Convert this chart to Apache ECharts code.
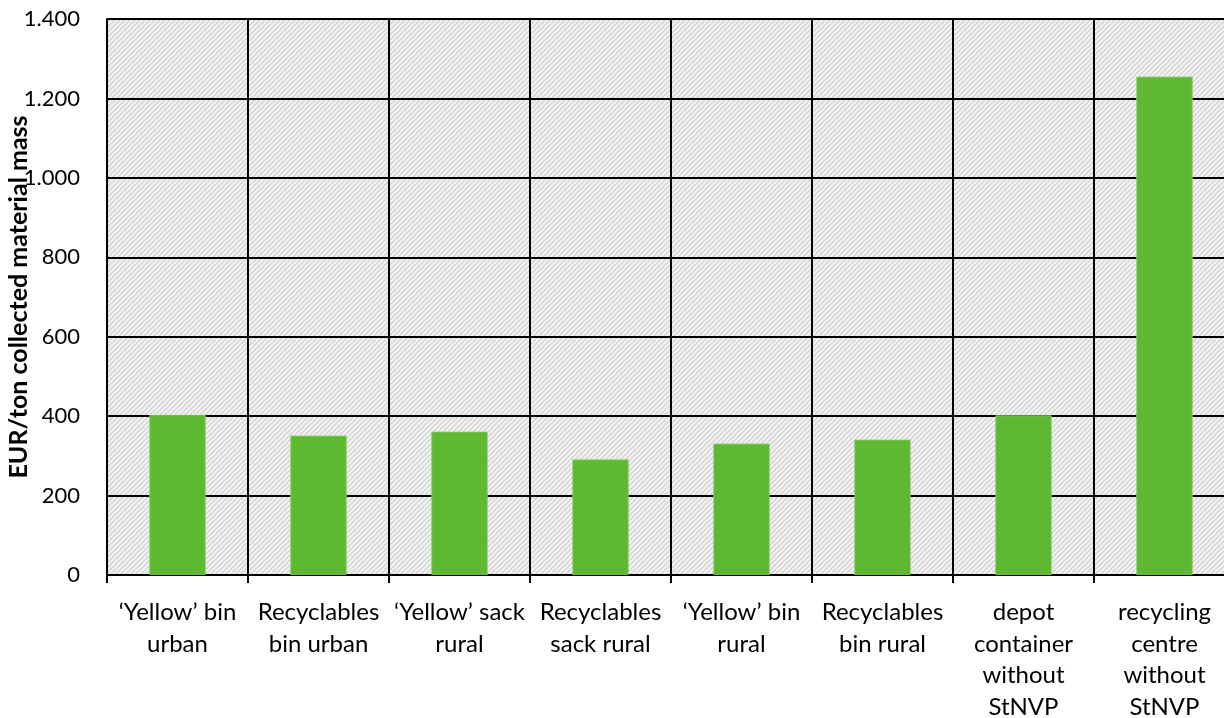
<!DOCTYPE html>
<html>
<head>
<meta charset="utf-8">
<script src="https://cdn.jsdelivr.net/npm/echarts@6/dist/echarts.min.js"></script>
<style>
  html, body { margin: 0; padding: 0; background: #ffffff; }
  #chart { width: 1224px; height: 718px; }
</style>
</head>
<body>
<div id="chart"></div>
<script>
// Collection systems (x-axis categories)
const categories = [
  '\u2018Yellow\u2019 bin\nurban',
  'Recyclables\nbin urban',
  '\u2018Yellow\u2019 sack\nrural',
  'Recyclables\nsack rural',
  '\u2018Yellow\u2019 bin\nrural',
  'Recyclables\nbin rural',
  'depot\ncontainer\nwithout\nStNVP',
  'recycling\ncentre\nwithout\nStNVP'
];

// Cost per ton of collected material (EUR/t)
const costPerTon = [403, 351, 361, 291, 331, 341, 402, 1255];

// Value axis settings
const yMin = 0;
const yMax = 1400;
const yStep = 200;
const yAxisTitle = 'EUR/ton collected material mass';

// Diagonal hatch used as the plot-area fill
function makeHatch() {
  const s = 5;
  const c = document.createElement('canvas');
  c.width = s; c.height = s;
  const g = c.getContext('2d');
  g.fillStyle = '#f5f5f5';
  g.fillRect(0, 0, s, s);
  g.strokeStyle = '#d6d6d6';
  g.lineWidth = 1.7;
  g.beginPath();
  g.moveTo(0, s); g.lineTo(s, 0);
  g.moveTo(-1, 1); g.lineTo(1, -1);
  g.moveTo(s - 1, s + 1); g.lineTo(s + 1, s - 1);
  g.stroke();
  return c;
}

// Thousands separator with a period
function fmtThousands(v) {
  return String(v).replace(/\B(?=(\d{3})+(?!\d))/g, '.');
}

const FONT = 'Lato, "Open Sans", sans-serif';
const chart = echarts.init(document.getElementById('chart'), null, { renderer: 'canvas' });

chart.setOption({
  animation: false,
  backgroundColor: '#ffffff',
  textStyle: { fontFamily: FONT },
  grid: {
    left: 107, top: 19, right: -11, bottom: 143,
    outerBoundsMode: 'none',
    containLabel: false,
    show: true,
    borderWidth: 0,
    backgroundColor: { image: makeHatch(), repeat: 'repeat' }
  },
  xAxis: {
    type: 'category',
    data: categories,
    boundaryGap: true,
    axisLine: { show: true, lineStyle: { color: '#000000', width: 2 } },
    axisTick: { show: true, length: 8, interval: 0, lineStyle: { color: '#000000', width: 2 } },
    splitLine: { show: true, interval: 0, lineStyle: { color: '#000000', width: 2 } },
    axisLabel: {
      interval: 0,
      margin: 22,
      color: '#000000',
      fontSize: 24,
      lineHeight: 31.5,
      fontFamily: FONT
    }
  },
  yAxis: {
    type: 'value',
    min: yMin,
    max: yMax,
    interval: yStep,
    name: yAxisTitle,
    nameLocation: 'middle',
    nameGap: 76,
    nameRotate: 90,
    nameMoveOverlap: false,
    nameTextStyle: {
      color: '#000000',
      fontSize: 25,
      fontWeight: 'bold',
      fontFamily: FONT
    },
    axisLine: { show: true, lineStyle: { color: '#000000', width: 2 } },
    axisTick: { show: false },
    splitLine: { show: true, lineStyle: { color: '#000000', width: 2 } },
    axisLabel: {
      margin: 27,
      color: '#000000',
      fontSize: 22,
      fontFamily: FONT,
      formatter: fmtThousands
    }
  },
  series: [{
    type: 'bar',
    data: costPerTon,
    barWidth: '40%',
    itemStyle: { color: '#5fb832', borderColor: '#8fd071', borderWidth: 0.8 }
  }]
});
</script>
</body>
</html>
